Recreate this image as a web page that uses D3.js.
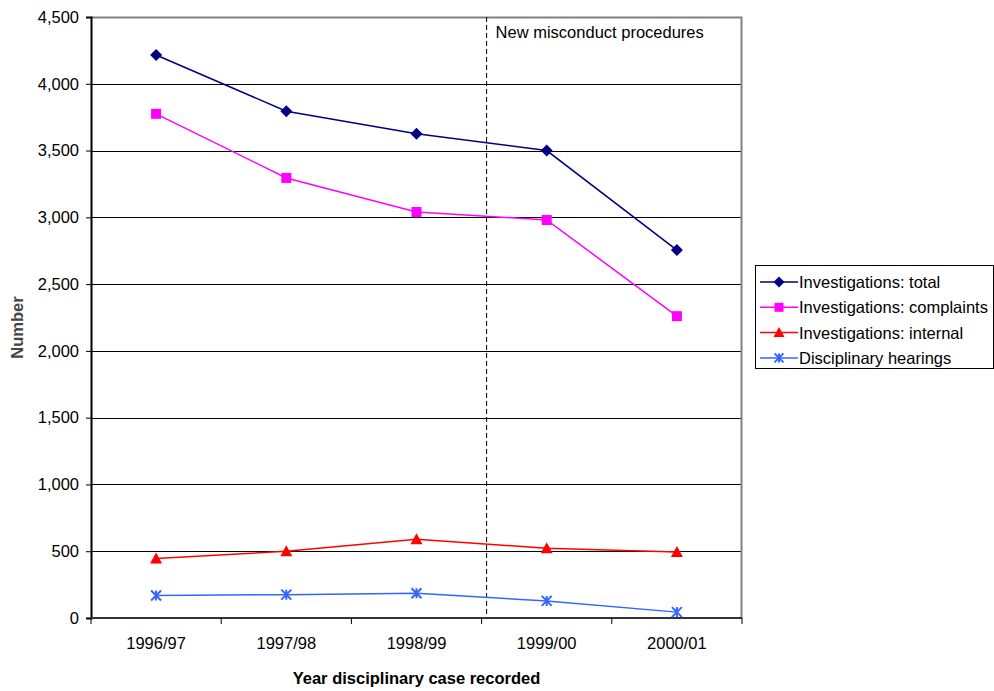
<!DOCTYPE html>
<html>
<head>
<meta charset="utf-8">
<script src="https://cdn.jsdelivr.net/npm/d3@7"></script>
<style>
  body { margin: 0; background: #fff; }
  svg { font-family: "Liberation Sans", Arial, sans-serif; }
</style>
</head>
<body>
<div id="chart"></div>
<script>
// chart data
let YEARS = ["1996/97", "1997/98", "1998/99", "1999/00", "2000/01"];
let TOTAL = [4215, 3795, 3625, 3500, 2755];
let COMPLAINTS = [3775, 3295, 3040, 2980, 2260];
let INTERNAL = [445, 500, 590, 522, 495];
let HEARINGS = [168, 175, 185, 128, 44];
let Y_TICKS = [0, 500, 1000, 1500, 2000, 2500, 3000, 3500, 4000, 4500];
let SERIES_NAMES = ["Investigations: total", "Investigations: complaints",
                    "Investigations: internal", "Disciplinary hearings"];

let FRAME_WIDTH = 994;
let FRAME_HEIGHT = 691;
let MARGINS = {left: 91, right: 252, top: 17, bottom: 73};
let PLOT_WIDTH = FRAME_WIDTH - MARGINS.left - MARGINS.right;
let PLOT_HEIGHT = FRAME_HEIGHT - MARGINS.top - MARGINS.bottom;
let FONT = "16.5px";

let series = [
  {name: SERIES_NAMES[0], values: TOTAL, color: "#000080", marker: "diamond"},
  {name: SERIES_NAMES[1], values: COMPLAINTS, color: "#ff00ff", marker: "square"},
  {name: SERIES_NAMES[2], values: INTERNAL, color: "#ff0000", marker: "triangle"},
  {name: SERIES_NAMES[3], values: HEARINGS, color: "#3366ff", marker: "star"}
];

let FRAME = d3.select("#chart")
  .append("svg")
  .attr("width", FRAME_WIDTH)
  .attr("height", FRAME_HEIGHT);

let X_SCALE = d3.scaleBand().domain(YEARS).range([0, PLOT_WIDTH]);
let Y_SCALE = d3.scaleLinear().domain([0, 4500]).range([PLOT_HEIGHT, 0]);

let plot = FRAME.append("g")
  .attr("transform", "translate(" + MARGINS.left + "," + MARGINS.top + ")");

// gridlines
plot.selectAll(".grid")
  .data(Y_TICKS.filter((d) => d > 0 && d < 4500))
  .enter()
  .append("line")
    .attr("x1", 0)
    .attr("x2", PLOT_WIDTH)
    .attr("y1", (d) => Math.round(Y_SCALE(d)) + 0.5)
    .attr("y2", (d) => Math.round(Y_SCALE(d)) + 0.5)
    .attr("stroke", "#000")
    .attr("stroke-width", 1);

// top and right border
plot.append("path")
  .attr("d", "M0,0.5H" + (PLOT_WIDTH - 0.5) + "V" + PLOT_HEIGHT)
  .attr("fill", "none")
  .attr("stroke", "#808080")
  .attr("stroke-width", 2);

// y axis
let yAxis = plot.append("g")
  .call(d3.axisLeft(Y_SCALE).tickValues(Y_TICKS).tickSize(5).tickFormat(d3.format(",")));
yAxis.select(".domain").attr("stroke", "#000").attr("stroke-width", 2);
yAxis.selectAll(".tick line").attr("stroke", "#000");
yAxis.selectAll("text")
  .attr("font-size", FONT)
  .attr("fill", "#000")
  .attr("x", -12)
  .attr("font-family", "Liberation Sans, Arial, sans-serif");

// x axis: ticks on category boundaries
let xAxis = plot.append("g")
  .attr("transform", "translate(0," + PLOT_HEIGHT + ")");
xAxis.append("line")
  .attr("x1", 0).attr("x2", PLOT_WIDTH)
  .attr("stroke", "#333").attr("stroke-width", 2);
let bounds = YEARS.map((d) => X_SCALE(d)).concat([PLOT_WIDTH]);
xAxis.selectAll(".xt")
  .data(bounds)
  .enter()
  .append("line")
    .attr("x1", (d) => d).attr("x2", (d) => d)
    .attr("y1", 0).attr("y2", 6)
    .attr("stroke", "#000");
xAxis.selectAll(".xl")
  .data(YEARS)
  .enter()
  .append("text")
    .attr("x", (d) => X_SCALE(d) + X_SCALE.bandwidth() / 2)
    .attr("y", 31)
    .attr("text-anchor", "middle")
    .attr("font-size", FONT)
    .text((d) => d);

// dashed divider
let divX = X_SCALE("1999/00") + 5;
plot.append("line")
  .attr("x1", divX).attr("x2", divX)
  .attr("y1", 0).attr("y2", PLOT_HEIGHT - 4)
  .attr("stroke", "#000")
  .attr("stroke-dasharray", "5,3");
plot.append("text")
  .attr("x", divX + 9)
  .attr("y", 21)
  .attr("font-size", FONT)
  .text("New misconduct procedures");

// markers
function drawMarker(g, type, color, size) {
  if (type === "diamond") {
    let r = size / 2 + 1;
    g.append("path").attr("d", "M0," + (-r) + "L" + r + ",0L0," + r + "L" + (-r) + ",0Z")
      .attr("fill", color);
  } else if (type === "square") {
    g.append("rect").attr("x", -size / 2).attr("y", -size / 2)
      .attr("width", size).attr("height", size).attr("fill", color);
  } else if (type === "triangle") {
    g.append("path").attr("d", "M0," + (-size / 2 - 1) + "L" + (size / 2 + 1) + "," + (size / 2) + "L" + (-size / 2 - 1) + "," + (size / 2) + "Z")
      .attr("fill", color);
  } else {
    let r = size / 2;
    g.append("path")
      .attr("d", "M" + (-r) + "," + (-r) + "L" + r + "," + r + "M" + (-r) + "," + r + "L" + r + "," + (-r) + "M0," + (-r) + "V" + r)
      .attr("stroke", color).attr("stroke-width", 2).attr("fill", "none");
  }
}

let line = d3.line()
  .x((d, i) => X_SCALE(YEARS[i]) + X_SCALE.bandwidth() / 2)
  .y((d) => Y_SCALE(d));

series.forEach((s) => {
  plot.append("path")
    .datum(s.values)
    .attr("d", line)
    .attr("fill", "none")
    .attr("stroke", s.color)
    .attr("stroke-width", 1.5);
  s.values.forEach((v, i) => {
    let g = plot.append("g")
      .attr("transform", "translate(" + (X_SCALE(YEARS[i]) + X_SCALE.bandwidth() / 2) + "," + Y_SCALE(v) + ")");
    drawMarker(g, s.marker, s.color, 10);
  });
});

// axis titles
FRAME.append("text")
  .attr("x", MARGINS.left + PLOT_WIDTH / 2)
  .attr("y", 684)
  .attr("text-anchor", "middle")
  .attr("font-size", FONT)
  .attr("font-weight", "bold")
  .text("Year disciplinary case recorded");

FRAME.append("text")
  .attr("transform", "translate(23," + (MARGINS.top + PLOT_HEIGHT / 2 + 10) + ") rotate(-90)")
  .attr("text-anchor", "middle")
  .attr("font-size", FONT)
  .attr("font-weight", "bold")
  .attr("fill", "#444")
  .text("Number");

// legend
let legend = FRAME.append("g").attr("transform", "translate(755,265)");
legend.append("rect")
  .attr("x", 0.5).attr("y", 0.5)
  .attr("width", 238).attr("height", 103)
  .attr("fill", "#fff")
  .attr("stroke", "#000");
series.forEach((s, i) => {
  let y = 17 + i * 25.3;
  legend.append("line")
    .attr("x1", 5).attr("x2", 43)
    .attr("y1", y).attr("y2", y)
    .attr("stroke", s.color).attr("stroke-width", 1.5);
  let g = legend.append("g").attr("transform", "translate(24," + y + ")");
  drawMarker(g, s.marker, s.color, 9);
  legend.append("text")
    .attr("x", 44)
    .attr("y", y + 6)
    .attr("font-size", FONT)
    .text(s.name);
});
</script>
</body>
</html>
